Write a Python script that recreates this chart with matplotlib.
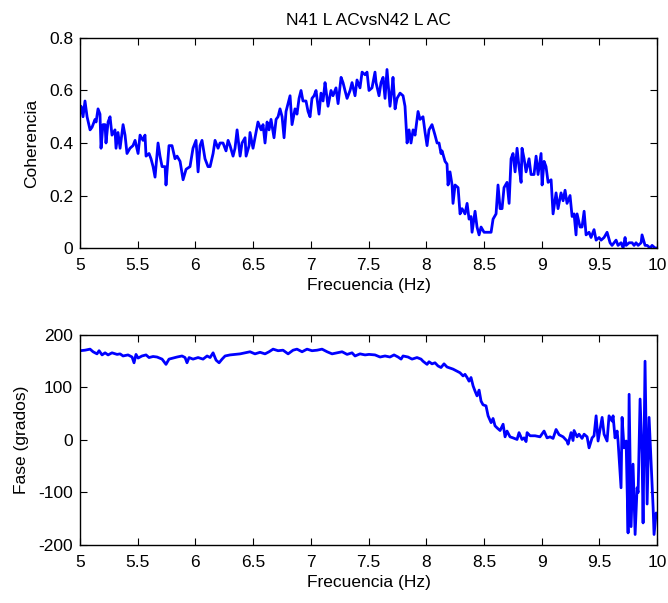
import matplotlib
matplotlib.use("Agg")
import matplotlib.pyplot as plt

plt.rcParams["font.family"] = ["Liberation Sans", "DejaVu Sans"]

# Coherence (top panel)
coh_freq = [
    5.000, 5.009, 5.026, 5.043, 5.061, 5.087, 5.104, 5.130, 5.139, 5.156,
    5.173, 5.182, 5.199, 5.217, 5.225, 5.243, 5.260, 5.277, 5.303, 5.312,
    5.329, 5.347, 5.373, 5.390, 5.407, 5.433, 5.459, 5.477, 5.503, 5.520,
    5.546, 5.563, 5.572, 5.598, 5.615, 5.633, 5.650, 5.676, 5.693, 5.711,
    5.737, 5.745, 5.771, 5.797, 5.823, 5.841, 5.867, 5.893, 5.919, 5.953,
    5.979, 6.005, 6.023, 6.040, 6.057, 6.083, 6.109, 6.127, 6.153, 6.170,
    6.196, 6.213, 6.239, 6.265, 6.283, 6.300, 6.326, 6.343, 6.361, 6.387,
    6.404, 6.430, 6.439, 6.465, 6.473, 6.499, 6.516, 6.542, 6.569, 6.586,
    6.603, 6.621, 6.638, 6.655, 6.681, 6.699, 6.716, 6.733, 6.751, 6.768,
    6.785, 6.820, 6.837, 6.863, 6.880, 6.898, 6.915, 6.932, 6.958, 6.976,
    6.993, 7.010, 7.028, 7.045, 7.071, 7.088, 7.106, 7.123, 7.132, 7.149,
    7.175, 7.192, 7.218, 7.236, 7.262, 7.279, 7.296, 7.314, 7.340, 7.357,
    7.383, 7.400, 7.426, 7.444, 7.470, 7.487, 7.504, 7.530, 7.556, 7.565,
    7.591, 7.608, 7.626, 7.643, 7.660, 7.686, 7.704, 7.712, 7.730, 7.747,
    7.773, 7.799, 7.816, 7.834, 7.851, 7.868, 7.886, 7.903, 7.929, 7.946,
    7.972, 7.990, 8.007, 8.024, 8.050, 8.076, 8.094, 8.111, 8.128, 8.137,
    8.163, 8.180, 8.189, 8.206, 8.224, 8.232, 8.250, 8.276, 8.293, 8.310,
    8.336, 8.354, 8.371, 8.388, 8.397, 8.423, 8.440, 8.458, 8.475, 8.501,
    8.527, 8.562, 8.579, 8.605, 8.622, 8.640, 8.657, 8.674, 8.700, 8.718,
    8.735, 8.752, 8.770, 8.787, 8.804, 8.822, 8.830, 8.848, 8.865, 8.891,
    8.908, 8.934, 8.952, 8.969, 8.995, 9.004, 9.021, 9.038, 9.056, 9.082,
    9.099, 9.125, 9.142, 9.168, 9.186, 9.203, 9.220, 9.246, 9.264, 9.281,
    9.298, 9.307, 9.333, 9.350, 9.368, 9.385, 9.411, 9.428, 9.454, 9.472,
    9.498, 9.515, 9.541, 9.567, 9.593, 9.610, 9.628, 9.645, 9.662, 9.688,
    9.706, 9.723, 9.732, 9.758, 9.784, 9.801, 9.818, 9.836, 9.862, 9.870,
    9.896, 9.914, 9.940, 9.957, 9.983, 10.000,
]
coherencia = [
    0.52, 0.54, 0.50, 0.56, 0.50, 0.45, 0.46, 0.49, 0.48, 0.53,
    0.51, 0.38, 0.47, 0.47, 0.40, 0.48, 0.50, 0.43, 0.45, 0.38,
    0.44, 0.38, 0.47, 0.43, 0.36, 0.38, 0.39, 0.41, 0.36, 0.43,
    0.41, 0.43, 0.35, 0.36, 0.34, 0.31, 0.27, 0.40, 0.35, 0.31,
    0.31, 0.24, 0.39, 0.39, 0.34, 0.35, 0.33, 0.26, 0.30, 0.31,
    0.38, 0.41, 0.29, 0.39, 0.41, 0.34, 0.31, 0.31, 0.36, 0.41,
    0.38, 0.40, 0.40, 0.37, 0.41, 0.39, 0.35, 0.38, 0.45, 0.35,
    0.40, 0.42, 0.35, 0.39, 0.44, 0.38, 0.42, 0.48, 0.45, 0.47,
    0.40, 0.48, 0.45, 0.49, 0.42, 0.49, 0.50, 0.53, 0.50, 0.42,
    0.52, 0.58, 0.47, 0.53, 0.51, 0.57, 0.60, 0.56, 0.56, 0.52,
    0.50, 0.57, 0.58, 0.60, 0.51, 0.59, 0.56, 0.63, 0.60, 0.54,
    0.60, 0.58, 0.61, 0.55, 0.65, 0.63, 0.60, 0.57, 0.60, 0.63,
    0.58, 0.64, 0.61, 0.67, 0.66, 0.67, 0.60, 0.61, 0.67, 0.63,
    0.58, 0.63, 0.65, 0.57, 0.68, 0.54, 0.61, 0.65, 0.53, 0.57,
    0.59, 0.58, 0.54, 0.40, 0.45, 0.40, 0.45, 0.43, 0.52, 0.49,
    0.50, 0.44, 0.39, 0.45, 0.47, 0.43, 0.40, 0.40, 0.36, 0.37,
    0.33, 0.32, 0.24, 0.29, 0.24, 0.17, 0.24, 0.23, 0.13, 0.15,
    0.13, 0.17, 0.11, 0.12, 0.06, 0.14, 0.08, 0.05, 0.08, 0.06,
    0.06, 0.06, 0.11, 0.13, 0.24, 0.15, 0.15, 0.23, 0.25, 0.17,
    0.34, 0.36, 0.29, 0.38, 0.31, 0.25, 0.38, 0.34, 0.29, 0.34,
    0.28, 0.28, 0.35, 0.28, 0.36, 0.24, 0.33, 0.31, 0.25, 0.26,
    0.13, 0.21, 0.15, 0.21, 0.18, 0.22, 0.17, 0.20, 0.12, 0.13,
    0.05, 0.13, 0.08, 0.08, 0.14, 0.05, 0.06, 0.04, 0.07, 0.03,
    0.04, 0.03, 0.04, 0.06, 0.02, 0.01, 0.02, 0.03, 0.01, 0.02,
    0.00, 0.04, 0.01, 0.02, 0.02, 0.01, 0.02, 0.01, 0.02, 0.05,
    0.01, 0.01, 0.00, 0.01, 0.00, 0.00,
]

# Phase (bottom panel), degrees
fase_freq = [
    5.000, 5.043, 5.087, 5.113, 5.147, 5.165, 5.191, 5.217, 5.243, 5.277,
    5.321, 5.347, 5.373, 5.416, 5.451, 5.468, 5.485, 5.503, 5.537, 5.572,
    5.598, 5.633, 5.667, 5.711, 5.745, 5.771, 5.806, 5.841, 5.884, 5.910,
    5.927, 5.945, 5.979, 6.023, 6.066, 6.101, 6.127, 6.153, 6.179, 6.205,
    6.231, 6.257, 6.300, 6.343, 6.387, 6.430, 6.473, 6.516, 6.560, 6.603,
    6.638, 6.673, 6.716, 6.759, 6.803, 6.846, 6.880, 6.924, 6.967, 7.010,
    7.054, 7.097, 7.141, 7.184, 7.227, 7.271, 7.314, 7.357, 7.383, 7.426,
    7.470, 7.504, 7.556, 7.600, 7.643, 7.686, 7.721, 7.756, 7.782, 7.799,
    7.842, 7.877, 7.920, 7.955, 7.972, 8.007, 8.024, 8.050, 8.076, 8.102,
    8.128, 8.154, 8.180, 8.206, 8.232, 8.267, 8.293, 8.319, 8.336, 8.354,
    8.371, 8.388, 8.406, 8.423, 8.440, 8.458, 8.475, 8.492, 8.518, 8.536,
    8.562, 8.579, 8.596, 8.614, 8.640, 8.666, 8.683, 8.700, 8.726, 8.752,
    8.787, 8.804, 8.830, 8.848, 8.865, 8.874, 8.900, 8.943, 8.986, 9.021,
    9.047, 9.073, 9.099, 9.125, 9.151, 9.186, 9.220, 9.229, 9.255, 9.272,
    9.281, 9.307, 9.324, 9.350, 9.368, 9.394, 9.411, 9.437, 9.454, 9.472,
    9.489, 9.524, 9.541, 9.567, 9.584, 9.610, 9.619, 9.636, 9.654, 9.662,
    9.688, 9.697, 9.714, 9.732, 9.749, 9.758, 9.775, 9.792, 9.810, 9.827,
    9.836, 9.853, 9.870, 9.879, 9.896, 9.914, 9.931, 9.957, 9.966, 9.974,
    9.992, 10.000,
]
fase = [
    170, 171, 173, 168, 164, 170, 162, 166, 162, 166,
    163, 164, 160, 162, 158, 147, 163, 156, 160, 162,
    157, 159, 158, 154, 144, 154, 156, 158, 160, 157,
    147, 157, 154, 157, 154, 160, 157, 166, 152, 147,
    154, 160, 162, 163, 164, 166, 168, 164, 167, 164,
    168, 173, 170, 171, 164, 171, 173, 168, 173, 170,
    171, 173, 168, 164, 166, 168, 163, 166, 160, 164,
    162, 163, 162, 158, 160, 158, 162, 158, 154, 160,
    158, 154, 157, 154, 150, 144, 149, 145, 147, 141,
    138, 145, 139, 137, 135, 131, 128, 122, 125, 119,
    112, 119, 103, 93, 84, 95, 74, 67, 65, 46,
    33, 41, 27, 23, 18, 30, 6, 17, 6, 4,
    1, 14, 1, 4, -3, 14, 8, 8, 6, 17,
    4, 6, 3, 20, 10, 6, -2, -8, 14, -1,
    18, 6, 11, 3, 11, 6, -15, 4, 8, 46,
    -2, 43, 11, -2, 46, 36, 46, 4, 17, -2,
    -91, 43, -15, -2, -177, 87, -165, -46, -180, -91,
    -100, 78, -27, -158, 150, -122, 43, -88, -129, -180,
    -139, -141,
]

x_ticks = [5, 5.5, 6, 6.5, 7, 7.5, 8, 8.5, 9, 9.5, 10]
x_labels = ["5", "5.5", "6", "6.5", "7", "7.5", "8", "8.5", "9", "9.5", "10"]
coh_ticks = [0, 0.2, 0.4, 0.6, 0.8]
coh_labels = ["0", "0.2", "0.4", "0.6", "0.8"]
fase_ticks = [-200, -100, 0, 100, 200]
fase_labels = ["-200", "-100", "0", "100", "200"]

fs = 12.5

fig = plt.figure(figsize=(6.68, 6.03), dpi=100)
ax1 = fig.add_axes([0.1198, 0.5887, 0.8638, 0.3483])
ax2 = fig.add_axes([0.1198, 0.0962, 0.8638, 0.3483])

ax1.plot(coh_freq, coherencia, color="#0000ff", linewidth=2.0)
ax1.set_xlim(5, 10)
ax1.set_ylim(0, 0.8)
ax1.set_yticks(coh_ticks)
ax1.set_yticklabels(coh_labels)
ax1.set_ylabel("Coherencia", fontsize=fs, labelpad=7)
ax1.set_title("N41 L ACvsN42 L AC", fontsize=fs, pad=9)

ax2.plot(fase_freq, fase, color="#0000ff", linewidth=2.0)
ax2.set_xlim(5, 10)
ax2.set_ylim(-200, 200)
ax2.set_yticks(fase_ticks)
ax2.set_yticklabels(fase_labels)
ax2.set_ylabel("Fase (grados)", fontsize=fs, labelpad=7)

for ax in (ax1, ax2):
    ax.set_xticks(x_ticks)
    ax.set_xticklabels(x_labels)
    ax.set_xlabel("Frecuencia (Hz)", fontsize=fs, labelpad=4)
    ax.tick_params(direction="in", top=True, right=True, length=5,
                   width=0.8, labelsize=fs)
    ax.tick_params(axis="x", pad=7)
    ax.tick_params(axis="y", pad=5)
    for s in ax.spines.values():
        s.set_linewidth(1.0)

fig.savefig("out.png", dpi=100)
